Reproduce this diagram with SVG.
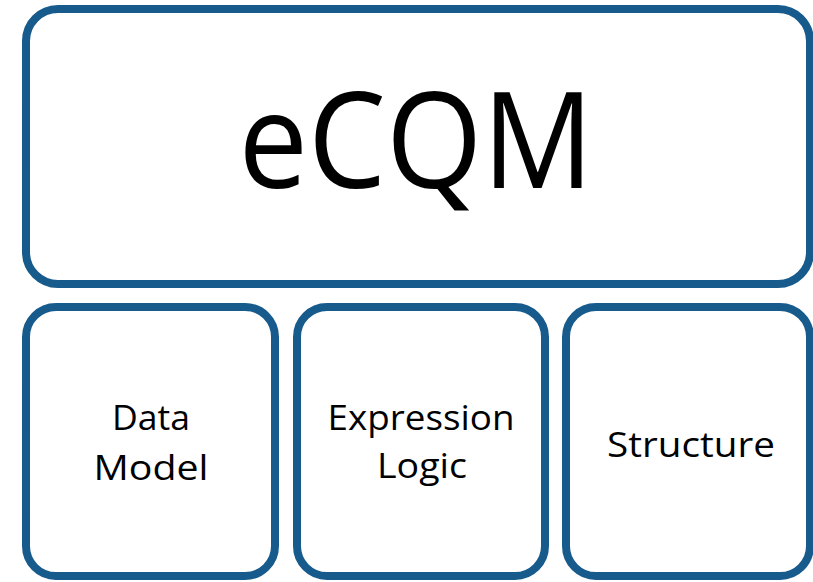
<svg xmlns="http://www.w3.org/2000/svg" width="813" height="582" viewBox="0 0 813 582">
<style>
.box{fill:#ffffff;stroke:#175a8c;stroke-width:8}
.lbl{font-family:"Open Sans","Noto Sans",sans-serif;fill:#000000;text-anchor:middle}
.big{font-size:134px}
.sm{font-size:34px}
</style>
<rect width="813" height="582" fill="#ffffff"/>
<g id="ecqm">
<rect class="box" x="26" y="9" width="784" height="275" rx="32"/>
<text class="lbl big" x="416" y="188" textLength="355" lengthAdjust="spacingAndGlyphs">eCQM</text>
</g>
<g id="data-model">
<rect class="box" x="26" y="307" width="249" height="269" rx="30"/>
<text class="lbl sm" x="151" y="430" textLength="78" lengthAdjust="spacingAndGlyphs">Data</text>
<text class="lbl sm" x="151" y="480" textLength="115" lengthAdjust="spacingAndGlyphs">Model</text>
</g>
<g id="expression-logic">
<rect class="box" x="297" y="307" width="248" height="269" rx="30"/>
<text class="lbl sm" x="421" y="430" textLength="187" lengthAdjust="spacingAndGlyphs">Expression</text>
<text class="lbl sm" x="422" y="478" textLength="90" lengthAdjust="spacingAndGlyphs">Logic</text>
</g>
<g id="structure">
<rect class="box" x="566" y="307" width="244" height="269" rx="30"/>
<text class="lbl sm" x="691" y="457" textLength="168" lengthAdjust="spacingAndGlyphs">Structure</text>
</g>
<g id="connectors"></g>
</svg>
